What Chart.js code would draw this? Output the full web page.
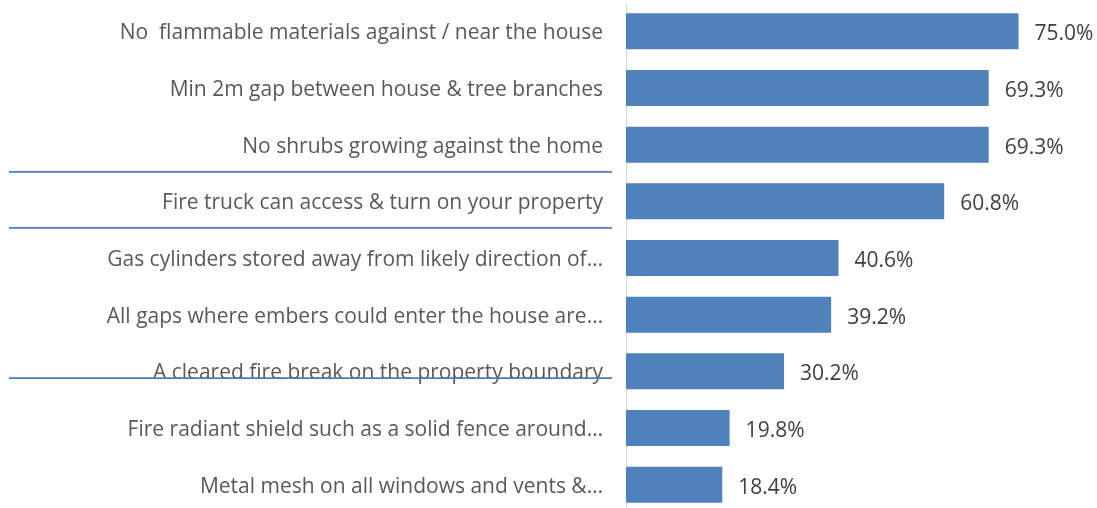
<!DOCTYPE html>
<html>
<head>
<meta charset="utf-8">
<script src="https://cdn.jsdelivr.net/npm/chart.js@4"></script>
<style>
  html, body { margin: 0; padding: 0; background: #fff; overflow: hidden; }
  #wrap { width: 1097px; height: 514px; }
</style>
</head>
<body>
<div id="wrap"><canvas id="chart" width="1097" height="514"></canvas></div>
<script>
// Bushfire preparedness measures in place (% of respondents)
const measures = [
  'No  flammable materials against / near the house',
  'Min 2m gap between house & tree branches',
  'No shrubs growing against the home',
  'Fire truck can access & turn on your property',
  'Gas cylinders stored away from likely direction of\u2026',
  'All gaps where embers could enter the house are\u2026',
  'A cleared fire break on the property boundary',
  'Fire radiant shield such as a solid fence around\u2026',
  'Metal mesh on all windows and vents &\u2026'
];
const percentages = [75.0, 69.3, 69.3, 60.8, 40.6, 39.2, 30.2, 19.8, 18.4];

// Stray ruled lines sitting across the label column (in category units)
const rulePositions = [2.48, 3.47, 6.12];

const BAR_BLUE = '#4F81BD';
const TEXT_GREY = '#595959';
const FONT = "'Open Sans', sans-serif";

const valueLabels = {
  id: 'valueLabels',
  afterDatasetsDraw(chart) {
    const { ctx } = chart;
    const meta = chart.getDatasetMeta(0);
    ctx.save();
    ctx.font = `21px ${FONT}`;
    ctx.fillStyle = '#404040';
    ctx.textAlign = 'left';
    ctx.textBaseline = 'middle';
    meta.data.forEach((bar, i) => {
      ctx.fillText(percentages[i].toFixed(1) + '%', bar.x + 16, bar.y + 3);
    });
    ctx.restore();
  }
};

const labelRules = {
  id: 'labelRules',
  afterDraw(chart) {
    const { ctx, scales: { y }, chartArea } = chart;
    ctx.save();
    ctx.strokeStyle = '#4A7EBB';
    ctx.lineWidth = 1.8;
    rulePositions.forEach(p => {
      const py = y.getPixelForValue(p);
      ctx.beginPath();
      ctx.moveTo(9, py);
      ctx.lineTo(chartArea.left - 14, py);
      ctx.stroke();
    });
    ctx.restore();
  }
};

new Chart(document.getElementById('chart'), {
  type: 'bar',
  data: {
    labels: measures,
    datasets: [{
      data: percentages,
      backgroundColor: BAR_BLUE,
      borderWidth: 0,
      barPercentage: 0.635,
      categoryPercentage: 1.0
    }]
  },
  plugins: [valueLabels, labelRules],
  options: {
    indexAxis: 'y',
    responsive: false,
    animation: false,
    layout: { padding: { top: 3, bottom: 1, left: 0, right: 0 } },
    plugins: {
      legend: { display: false },
      tooltip: { enabled: false }
    },
    scales: {
      x: {
        display: false,
        min: 0,
        max: 90
      },
      y: {
        afterFit(scale) {
          scale.width = 626;
          scale.paddingTop = 0;
          scale.paddingBottom = 0;
        },
        grid: { display: false, drawTicks: false },
        border: { display: true, color: '#D9D9D9', width: 1 },
        ticks: {
          color: TEXT_GREY,
          padding: 23,
          labelOffset: 2,
          autoSkip: false,
          font: { family: FONT, size: 21 }
        }
      }
    }
  }
});
</script>
</body>
</html>
